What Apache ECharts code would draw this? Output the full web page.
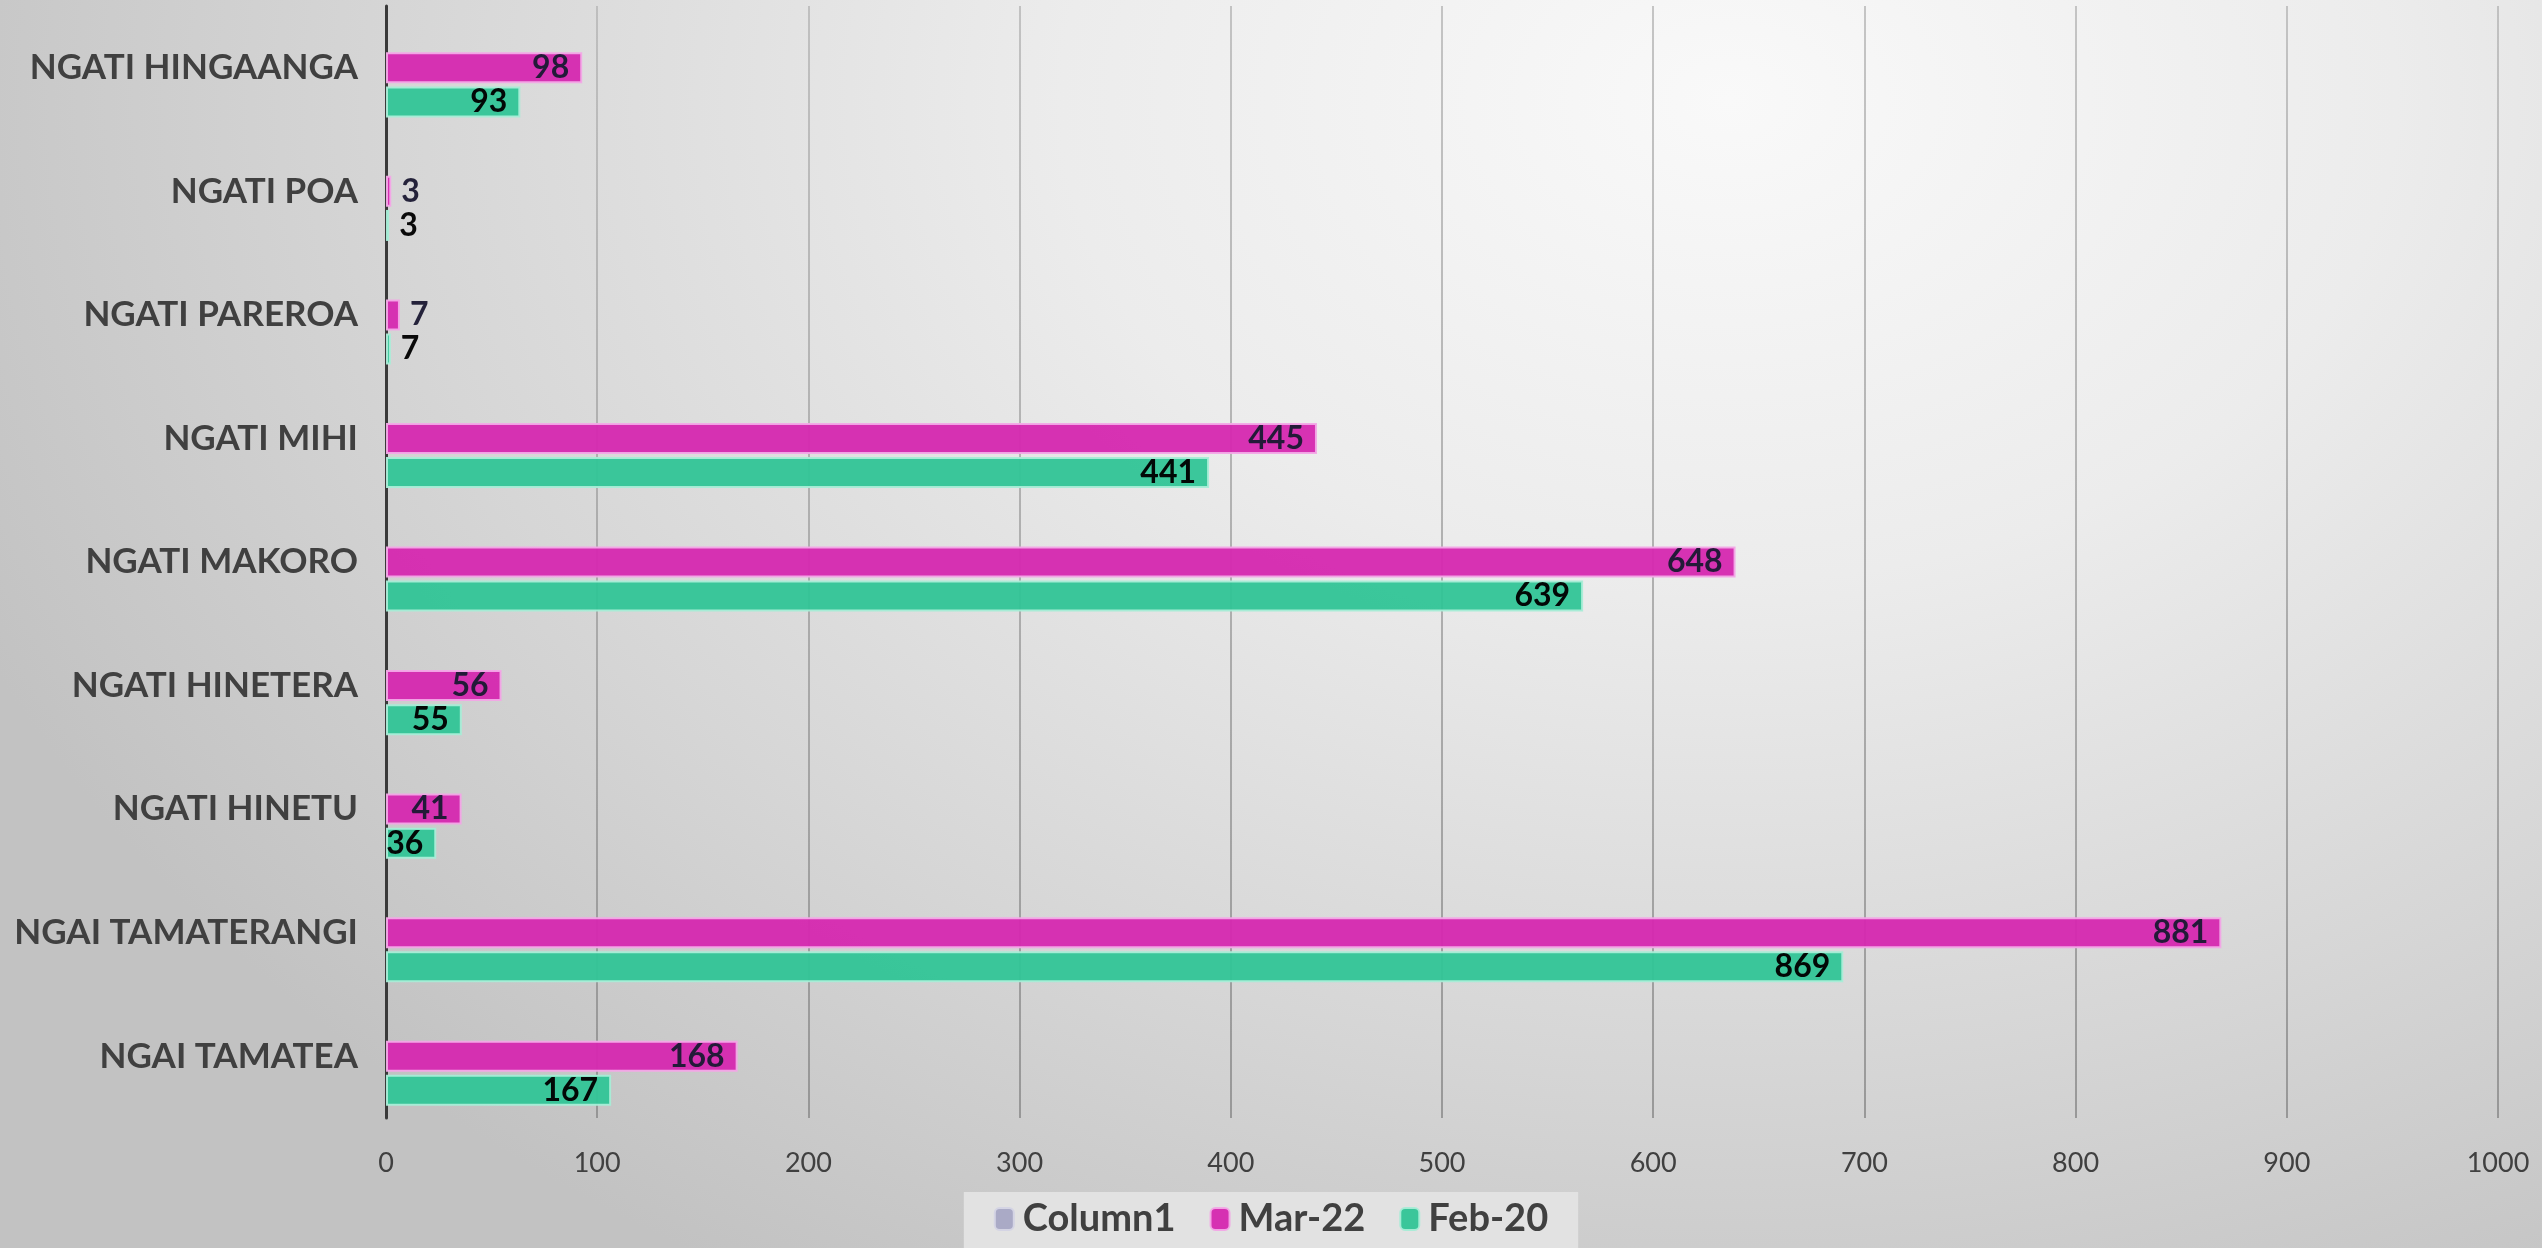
<!DOCTYPE html>
<html><head><meta charset="utf-8">
<style>
html,body{margin:0;padding:0;width:2542px;height:1248px;overflow:hidden;
background:radial-gradient(ellipse 75% 110% at 68% 8%, #f9f9f9 0%, #ececec 35%, #d6d6d6 70%, #c2c2c2 100%);}
#c{width:2542px;height:1248px;}
</style>
<script src="https://cdn.jsdelivr.net/npm/echarts@6/dist/echarts.min.js"></script>
</head><body><div id="c"></div>
<script>
// categories listed bottom-to-top
var categories = ['NGAI TAMATEA','NGAI TAMATERANGI','NGATI HINETU','NGATI HINETERA','NGATI MAKORO','NGATI MIHI','NGATI PAREROA','NGATI POA','NGATI HINGAANGA'];
// bar lengths as drawn in the picture
var mar22Bars = [166.5, 869, 35.8, 54.7, 639, 440.8, 6.6, 2.5, 92.9];
var feb20Bars = [106.6, 690, 23.8, 35.9, 566.8, 389.7, 2.3, 1.5, 63.6];
// data labels as printed
var mar22Labels = [168, 881, 41, 56, 648, 445, 7, 3, 98];
var feb20Labels = [167, 869, 36, 55, 639, 441, 7, 3, 93];
var column1 = [null, null, null, null, null, null, null, null, null];
var xTicks = [0,100,200,300,400,500,600,700,800,900,1000];

function items(bars, labels, color) {
  return bars.map(function (v, i) {
    var small = v < 20;
    return {
      value: v,
      label: {
        show: true,
        position: small ? 'right' : 'insideRight',
        distance: small ? 10 : 13,
        formatter: String(labels[i]),
        color: color,
        fontFamily: 'Lato',
        fontWeight: 'bold',
        fontSize: 32
      }
    };
  });
}

var chart = echarts.init(document.getElementById('c'), null, {renderer: 'canvas'});
chart.setOption({
  backgroundColor: 'transparent',
  animation: false,
  grid: {left: 386, right: 44, top: 6, bottom: 130, containLabel: false},
  legend: {
    bottom: 0, left: 'center',
    data: ['Column1', 'Mar-22', 'Feb-20'],
    backgroundColor: '#e2e2e2',
    padding: [8, 30, 10, 30],
    itemWidth: 19, itemHeight: 22, itemGap: 34,
    textStyle: {fontFamily: 'Lato', fontWeight: 'bold', fontSize: 38, color: '#404040', padding: [0, 0, 0, 4]}
  },
  xAxis: {
    type: 'value', min: 0, max: 1000, interval: 100,
    axisLine: {show: false}, axisTick: {show: false},
    splitLine: {show: true, lineStyle: {
      color: {type: 'linear', x: 0, y: 0, x2: 0, y2: 1115, global: true,
              colorStops: [{offset: 0, color: '#b4b4b4'}, {offset: 1, color: '#858585'}]},
      width: 1.5}},
    axisLabel: {
      fontFamily: 'Lato', fontSize: 27, color: '#404040', margin: 32,
      formatter: function (v) { return xTicks.indexOf(v) >= 0 ? String(v) : ''; }
    }
  },
  yAxis: {
    type: 'category', data: categories,
    axisLine: {show: true, onZero: false, lineStyle: {color: '#3a3a3a', width: 3}},
    axisTick: {show: false},
    axisLabel: {fontFamily: 'Lato', fontWeight: 'bold', fontSize: 35, color: '#404040', margin: 28}
  },
  series: [
    {name: 'Column1', type: 'bar', data: column1, barWidth: 31, barGap: '10%',
     itemStyle: {color: '#aaaac6', borderColor: '#d4d4e4', borderWidth: 1.5}},
    {name: 'Mar-22', type: 'bar', data: items(mar22Bars, mar22Labels, '#1c1a33'), barWidth: 31, barGap: '10%',
     itemStyle: {color: '#d52ab0', borderColor: '#f3a8e6', borderWidth: 2, opacity: 0.96}},
    {name: 'Feb-20', type: 'bar', data: items(feb20Bars, feb20Labels, '#000000'), barWidth: 31, barGap: '10%',
     itemStyle: {color: '#33c597', borderColor: '#a8ecd6', borderWidth: 2, opacity: 0.96}}
  ]
});
</script>
</body></html>
